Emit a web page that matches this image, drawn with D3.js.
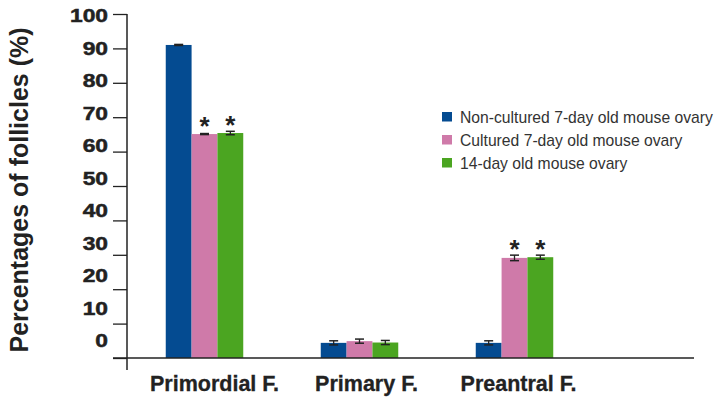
<!DOCTYPE html>
<html>
<head>
<meta charset="utf-8">
<script src="https://cdn.jsdelivr.net/npm/d3@7"></script>
<style>
  body { margin: 0; background: #fff; }
  svg { display: block; font-family: "Liberation Sans", Arial, Helvetica, sans-serif; }
</style>
</head>
<body>
<svg id="chart" width="725" height="400"></svg>
<script>
// ---- data ----
const categories = ["Primordial F.", "Primary F.", "Preantral F."];
const seriesNames = ["Non-cultured 7-day old mouse ovary", "Cultured 7-day old mouse ovary", "14-day old mouse ovary"];
const nonCultured = [91.0, 4.4, 4.4];
const cultured = [65.1, 4.9, 29.1];
const day14 = [65.4, 4.5, 29.3];
const nonCulturedErr = [0.15, 0.6, 0.6];
const culturedErr = [0.15, 0.6, 0.8];
const day14Err = [0.5, 0.6, 0.6];
const culturedSig = [true, false, true];
const day14Sig = [true, false, true];
const yTicks = [0, 10, 20, 30, 40, 50, 60, 70, 80, 90, 100];
const colors = ["#044b91", "#cf7aa9", "#4ba521"];

const series = [
  { name: seriesNames[0], values: nonCultured, err: nonCulturedErr, sig: [false, false, false] },
  { name: seriesNames[1], values: cultured, err: culturedErr, sig: culturedSig },
  { name: seriesNames[2], values: day14, err: day14Err, sig: day14Sig }
];

const svg = d3.select("#chart");
const axisX = 127, baseY = 358;

const y = d3.scaleLinear().domain([0, 100]).range([baseY, 14]);
const yLabel = d3.scaleLinear().domain([0, 100]).range([340, 15]);
const x0 = d3.scaleBand().domain(categories).range([127, 592]).paddingInner(0.5).paddingOuter(0.25);
const x1 = d3.scaleBand().domain(d3.range(series.length)).range([0, x0.bandwidth()]);
const xLabel = d3.scalePoint().domain(categories).range([214, 518]);
const ink = "#222";

// bars
const groups = svg.append("g").selectAll("g").data(categories).join("g")
  .attr("transform", d => `translate(${x0(d)},0)`);

groups.each(function(cat, ci) {
  const g = d3.select(this);
  series.forEach((s, si) => {
    const v = s.values[ci];
    const bx = x1(si), bw = x1.bandwidth();
    g.append("rect")
      .attr("x", bx).attr("width", bw)
      .attr("y", y(v)).attr("height", y(0) - y(v))
      .attr("fill", colors[si]);
    const e = s.err[ci], cx = bx + bw / 2;
    g.append("line").attr("x1", cx).attr("x2", cx).attr("y1", y(v + e)).attr("y2", y(v - e))
      .attr("stroke", ink).attr("stroke-width", 1.3);
    [v + e, v - e].forEach(ev => {
      g.append("line").attr("x1", cx - 4.5).attr("x2", cx + 4.5).attr("y1", y(ev)).attr("y2", y(ev))
        .attr("stroke", ink).attr("stroke-width", 1.5);
    });
    if (s.sig[ci]) {
      g.append("text").attr("x", cx).attr("y", y(v) + 0.5)
        .attr("text-anchor", "middle").attr("font-size", 26).attr("font-weight", "bold")
        .attr("fill", ink).text("*");
    }
  });
});

// y axis ticks (no labels)
const yAxisG = svg.append("g").attr("transform", `translate(${axisX},0)`)
  .call(d3.axisLeft(y).tickValues(yTicks).tickSize(14).tickFormat(""));
yAxisG.select(".domain").remove();
yAxisG.selectAll(".tick line").attr("stroke", ink).attr("stroke-width", 1.3);
svg.append("line").attr("x1", axisX).attr("x2", axisX).attr("y1", y(100)).attr("y2", 370)
  .attr("stroke", ink).attr("stroke-width", 1.5);

// y tick labels (separate scale)
const yLabG = svg.append("g").attr("transform", `translate(${axisX},0)`)
  .call(d3.axisLeft(yLabel).tickValues(yTicks).tickSize(0).tickFormat(d3.format("d")));
yLabG.select(".domain").remove();
yLabG.selectAll(".tick text")
  .attr("x", 0).attr("dy", null).attr("dominant-baseline", null)
  .attr("transform", "translate(-19,6.8) scale(1.2,1)")
  .attr("font-size", 19).attr("font-weight", "bold")
  .attr("font-family", "'Liberation Sans', Arial, sans-serif")
  .attr("fill", "#222").attr("stroke", "#222").attr("stroke-width", 0.5);

// x baseline
svg.append("line").attr("x1", 113).attr("x2", 694).attr("y1", baseY).attr("y2", baseY)
  .attr("stroke", ink).attr("stroke-width", 1.5);

// x category labels
const xLabG = svg.append("g").attr("transform", `translate(0,${baseY})`)
  .call(d3.axisBottom(xLabel).tickSize(0));
xLabG.select(".domain").remove();
xLabG.selectAll(".tick text")
  .attr("y", 33).attr("dy", null)
  .attr("font-size", 21.5).attr("font-weight", "bold")
  .attr("font-family", "'Liberation Sans', Arial, sans-serif")
  .attr("fill", "#222").attr("stroke", "#222").attr("stroke-width", 0.3);

// y title
svg.append("text")
  .attr("transform", "translate(28,190) rotate(-90)")
  .attr("text-anchor", "middle")
  .attr("font-size", 25).attr("font-weight", "bold").attr("fill", "#222")
  .text("Percentages of follicles (%)");

// legend
const legend = svg.append("g").attr("transform", "translate(442,112)");
series.forEach((s, i) => {
  const row = legend.append("g").attr("transform", `translate(0,${i * 23})`);
  row.append("rect").attr("width", 10).attr("height", 9.5).attr("fill", colors[i]);
  row.append("text").attr("x", 18).attr("y", 11)
    .attr("font-size", 15.7).attr("fill", "#333").text(s.name);
});
</script>
</body>
</html>
